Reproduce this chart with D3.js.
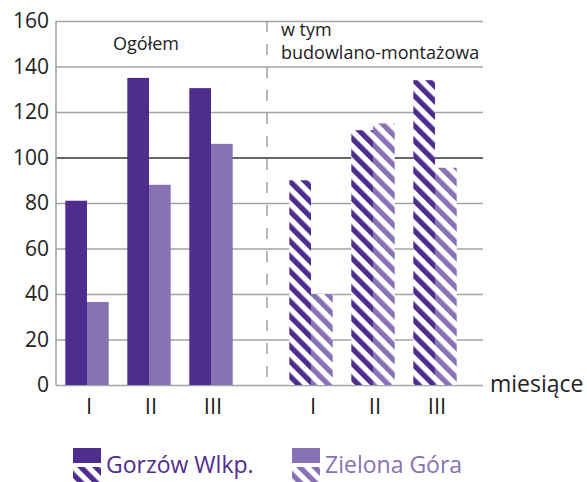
<!DOCTYPE html>
<html>
<head>
<meta charset="utf-8">
<script src="https://cdn.jsdelivr.net/npm/d3@7"></script>
<style>
    body { margin: 0; background: #fff; }
    text { font-family: "Open Sans", "Noto Sans", sans-serif; }
</style>
</head>
<body>
<div id="chart"></div>
<script>
var months = ["I", "II", "III"];
var seriesNames = ["Gorzów Wlkp.", "Zielona Góra"];
var sections = ["Ogółem", "w tym budowlano-montażowa"];
var ogolemGorzow = [81, 135, 130.5];
var ogolemZielona = [36.5, 88, 106];
var budowlanaGorzow = [90, 112, 134];
var budowlanaZielona = [40, 115, 95.5];
var yTicks = [0, 20, 40, 60, 80, 100, 120, 140, 160];
var axisLabel = "miesiące";

var width = 587, height = 482;
var colors = d3.scaleOrdinal().domain(seriesNames).range(["#4f2d8f", "#8872b4"]);

var svg = d3.select("#chart").append("svg")
    .attr("width", width)
    .attr("height", height);

var plotLeft = 56, plotRight = 483, plotTop = 21, plotBottom = 385;

var y = d3.scaleLinear().domain([0, 160]).range([plotBottom, plotTop]);

// where each section of groups starts
var xSection = d3.scaleOrdinal().domain(sections).range([56, 280]);
var xMonth = d3.scaleBand().domain(months).range([0, 186])
    .paddingInner(0.3).paddingOuter(0.15);
var xSeries = d3.scaleBand().domain(seriesNames).range([0, xMonth.bandwidth()]);

// striped patterns for the second section
var defs = svg.append("defs");
seriesNames.forEach(function (name, i) {
    var p = defs.append("pattern")
        .attr("id", "stripe" + i)
        .attr("patternUnits", "userSpaceOnUse")
        .attr("width", 10.6)
        .attr("height", 10.6)
        .attr("patternTransform", "rotate(-45)");
    p.append("rect").attr("width", 10.6).attr("height", 10.6).attr("fill", "#fff");
    p.append("rect").attr("width", 5.3).attr("height", 10.6).attr("fill", colors(name));
});

// gridlines
svg.append("g")
    .attr("class", "grid")
    .attr("transform", "translate(" + plotLeft + ",0)")
    .call(d3.axisLeft(y).tickValues(yTicks).tickSize(-(plotRight - plotLeft)).tickFormat(""))
    .call(function (g) {
        g.select(".domain").remove();
        g.selectAll(".tick line")
            .attr("stroke", function (d) { return d == 100 ? "#333" : "#a3a3a3"; })
            .attr("stroke-width", 1.6);
    });

// tick labels
svg.append("g")
    .attr("transform", "translate(" + plotLeft + ",0)")
    .call(d3.axisLeft(y).tickValues(yTicks).tickSize(0).tickPadding(7))
    .call(function (g) {
        g.select(".domain").remove();
        g.selectAll("text")
            .attr("fill", "#222")
            .style("font-size", "21px");
    });

// y axis line
svg.append("line")
    .attr("x1", plotLeft).attr("x2", plotLeft)
    .attr("y1", plotTop).attr("y2", plotBottom)
    .attr("stroke", "#a3a3a3")
    .attr("stroke-width", 1.6);

// dashed divider
svg.append("line")
    .attr("x1", 267).attr("x2", 267)
    .attr("y1", plotTop).attr("y2", plotBottom)
    .attr("stroke", "#999")
    .attr("stroke-width", 1.4)
    .attr("stroke-dasharray", "11,12");

// build bar rows from the arrays
var rows = [];
var values = [[ogolemGorzow, ogolemZielona], [budowlanaGorzow, budowlanaZielona]];
sections.forEach(function (sec, si) {
    months.forEach(function (m, mi) {
        seriesNames.forEach(function (s, ki) {
            rows.push({ section: sec, si: si, month: m, series: s, ki: ki, value: values[si][ki][mi] });
        });
    });
});

svg.append("g")
    .attr("class", "bars")
    .selectAll("rect")
    .data(rows)
    .enter().append("rect")
    .attr("x", function (d) { return xSection(d.section) + xMonth(d.month) + xSeries(d.series); })
    .attr("y", function (d) { return y(d.value); })
    .attr("width", xSeries.bandwidth())
    .attr("height", function (d) { return y(0) - y(d.value); })
    .attr("fill", function (d) {
        return d.si == 0 ? colors(d.series) : "url(#stripe" + d.ki + ")";
    });

// month labels
sections.forEach(function (sec) {
    svg.append("g")
        .selectAll("text")
        .data(months)
        .enter().append("text")
        .attr("x", function (m) { return xSection(sec) + xMonth(m) + xMonth.bandwidth() / 2 + 2; })
        .attr("y", 414)
        .attr("text-anchor", "middle")
        .attr("fill", "#222")
        .style("font-size", "22px")
        .text(function (m) { return m; });
});

svg.append("text")
    .attr("x", 490)
    .attr("y", 392)
    .attr("fill", "#222")
    .style("font-size", "23px")
    .text(axisLabel);

// section labels
svg.append("text")
    .attr("x", 146)
    .attr("y", 50)
    .attr("text-anchor", "middle")
    .attr("fill", "#222")
    .style("font-size", "18px")
    .text(sections[0]);

svg.append("text")
    .attr("x", 281)
    .attr("y", 36)
    .attr("fill", "#222")
    .style("font-size", "18px")
    .selectAll("tspan")
    .data(["w tym", "budowlano-montażowa"])
    .enter().append("tspan")
    .attr("x", 281)
    .attr("dy", function (d, i) { return i == 0 ? 0 : 23; })
    .text(function (d) { return d; });

// legend
var legend = svg.append("g")
    .selectAll("g")
    .data(seriesNames)
    .enter().append("g")
    .attr("transform", function (d, i) { return "translate(" + (i == 0 ? 73 : 292) + ",448)"; });

legend.append("rect")
    .attr("width", 28).attr("height", 15)
    .attr("fill", function (d) { return colors(d); });

legend.append("rect")
    .attr("y", 19)
    .attr("width", 28).attr("height", 15)
    .attr("fill", function (d, i) { return "url(#stripe" + i + ")"; });

legend.append("text")
    .attr("x", 33)
    .attr("y", 25)
    .attr("fill", function (d) { return colors(d); })
    .style("font-size", "23px")
    .text(function (d) { return d; });
</script>
</body>
</html>
